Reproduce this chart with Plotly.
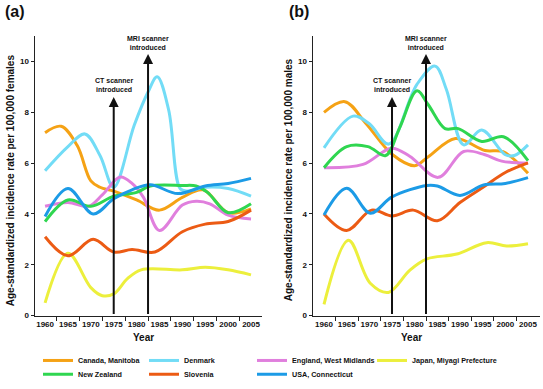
import plotly.graph_objects as go

# ---------------- data ----------------
series_names = ["Canada, Manitoba", "Denmark", "England, West Midlands",
                "Japan, Miyagi Prefecture", "New Zealand", "Slovenia", "USA, Connecticut"]
series_colors = ["#F5A215", "#72DCF6", "#E07FDD", "#ECEF3C", "#2FD650", "#EC5B14", "#1C9BE6"]

year_ticks = [1960, 1965, 1970, 1975, 1980, 1985, 1990, 1995, 2000, 2005]
y_ticks = [0, 2, 4, 6, 8, 10]
ct_year = 1975
mri_year = 1982.5

# Panel (a): females
a_canada_x = [1960, 1963.5, 1967, 1970, 1972, 1975, 1980, 1985, 1990, 1994.5, 2000, 2005]
a_canada_y = [7.2, 7.45, 6.7, 5.3, 5.05, 4.9, 4.55, 4.15, 4.65, 4.95, 4.05, 4.2]
a_denmark_x = [1960, 1965, 1968.7, 1972, 1975, 1979.5, 1982.5, 1984.5, 1987, 1989.5, 1991, 1995, 2000, 2005]
a_denmark_y = [5.7, 6.65, 7.15, 6.3, 5.05, 7.5, 8.8, 9.4, 8.1, 5.0, 4.9, 5.05, 5.0, 4.7]
a_england_x = [1960, 1965, 1969.5, 1972.5, 1976.4, 1979, 1981.5, 1985, 1990, 1993, 1996, 2000, 2005]
a_england_y = [4.3, 4.45, 4.3, 4.75, 5.45, 5.2, 4.65, 3.35, 4.35, 4.5, 4.4, 3.95, 3.8]
a_japan_x = [1960, 1965, 1970, 1972.5, 1975, 1978, 1981, 1990, 1995, 2000, 2005]
a_japan_y = [0.5, 2.45, 1.1, 0.78, 0.85, 1.45, 1.8, 1.8, 1.9, 1.8, 1.6]
a_nz_x = [1960, 1965, 1970, 1975, 1980, 1983, 1990, 1993, 1995.5, 2000, 2005]
a_nz_y = [3.7, 4.55, 4.3, 4.7, 4.85, 5.1, 5.12, 5.1, 4.85, 4.05, 4.4]
a_slovenia_x = [1960, 1965, 1970.5, 1975, 1979, 1984, 1990, 1995, 2000, 2005]
a_slovenia_y = [3.1, 2.35, 3.0, 2.5, 2.6, 2.5, 3.3, 3.6, 3.7, 4.15]
a_usa_x = [1960, 1965, 1970.5, 1975, 1979, 1983, 1989, 1995, 2000, 2005]
a_usa_y = [3.9, 5.0, 4.0, 4.6, 4.95, 5.15, 4.8, 5.1, 5.2, 5.4]

# Panel (b): males
b_canada_x = [1960, 1964.6, 1969.3, 1975, 1980, 1983, 1989, 1995.5, 1999.5, 2005]
b_canada_y = [8.0, 8.42, 7.55, 6.35, 5.9, 6.25, 6.97, 6.5, 6.45, 5.6]
b_denmark_x = [1960, 1966.4, 1970, 1974.3, 1980.5, 1984.5, 1987, 1990.8, 1994.8, 2000, 2002, 2005]
b_denmark_y = [6.6, 7.85, 7.55, 6.75, 9.1, 9.82, 8.9, 6.72, 7.3, 6.33, 6.3, 6.72]
b_england_x = [1960, 1968.6, 1974.9, 1978.9, 1985.2, 1990.8, 1995.5, 1999.2, 2005]
b_england_y = [5.82, 5.95, 6.59, 6.27, 5.44, 6.46, 6.33, 6.08, 6.0]
b_japan_x = [1960, 1965.4, 1970.2, 1974.2, 1978.9, 1982.7, 1989.3, 1995.9, 2000.3, 2005]
b_japan_y = [0.44, 2.96, 1.27, 0.91, 1.78, 2.23, 2.42, 2.87, 2.74, 2.83]
b_nz_x = [1960, 1965, 1969.7, 1973.6, 1976.7, 1980.5, 1983, 1986.7, 1989.6, 1994.8, 1999.6, 2005]
b_nz_y = [5.82, 6.65, 6.65, 6.3, 7.4, 8.85, 8.3, 7.36, 7.36, 6.85, 7.04, 6.1]
b_slovenia_x = [1960, 1965, 1970.5, 1975, 1979.7, 1985, 1990, 1995.5, 2000, 2005]
b_slovenia_y = [4.0, 3.35, 4.15, 3.92, 4.15, 3.73, 4.45, 5.1, 5.63, 6.01]
b_usa_x = [1960, 1965, 1970.2, 1975, 1982.7, 1985, 1990, 1995.2, 2000, 2005]
b_usa_y = [3.96, 5.01, 4.03, 4.67, 5.12, 5.1, 4.73, 5.14, 5.2, 5.43]

panel_a = [(a_canada_x, a_canada_y), (a_denmark_x, a_denmark_y), (a_england_x, a_england_y),
           (a_japan_x, a_japan_y), (a_nz_x, a_nz_y), (a_slovenia_x, a_slovenia_y), (a_usa_x, a_usa_y)]
panel_b = [(b_canada_x, b_canada_y), (b_denmark_x, b_denmark_y), (b_england_x, b_england_y),
           (b_japan_x, b_japan_y), (b_nz_x, b_nz_y), (b_slovenia_x, b_slovenia_y), (b_usa_x, b_usa_y)]

# ---------------- figure ----------------
W, H = 543, 389
FONT = "Liberation Sans, Arial, sans-serif"

def px(x):
    return x / W

def py(y):
    return 1 - y / H

# legend entry placement (pixel x of the label text, pixel y of the row)
legend_text_x = [79, 185, 293, 413, 79, 185, 293]
legend_row_y = [369, 369, 369, 369, 383, 383, 383]

fig = go.Figure()

for i, name in enumerate(series_names):
    legend_id = "legend" if i == 0 else "legend%d" % (i + 1)
    xs, ys = panel_a[i]
    fig.add_trace(go.Scatter(x=xs, y=ys, mode="lines", name=name,
                             line=dict(color=series_colors[i], width=3, shape="spline", smoothing=1.0),
                             xaxis="x", yaxis="y", legend=legend_id, showlegend=True,
                             legendgroup=name))
    xs, ys = panel_b[i]
    fig.add_trace(go.Scatter(x=xs, y=ys, mode="lines", name=name,
                             line=dict(color=series_colors[i], width=3, shape="spline", smoothing=1.0),
                             xaxis="x2", yaxis="y2", showlegend=False, legendgroup=name))

minor_vals = [y + 2.5 for y in year_ticks[:-1]]
ydom = [66 / H, 352 / H]

xcommon = dict(showgrid=False, zeroline=False, showline=True, linecolor="#222", linewidth=1.5,
               tickvals=year_ticks, ticktext=[str(t) for t in year_ticks], ticks="",
               tickfont=dict(family=FONT, size=8, color="#111", weight="bold"),
               minor=dict(tickvals=minor_vals, ticks="outside", ticklen=4, tickcolor="#222", tickwidth=1),
               fixedrange=True)
ycommon = dict(showgrid=False, zeroline=False, showline=True, linecolor="#222", linewidth=1.5,
               tickvals=y_ticks, ticks="outside", ticklen=3, tickcolor="#222",
               tickfont=dict(family=FONT, size=8, color="#111", weight="bold"),
               range=[0, 11], domain=ydom, fixedrange=True)

legend_layout = {}
for i in range(len(series_names)):
    key = "legend" if i == 0 else "legend%d" % (i + 1)
    legend_layout[key] = dict(orientation="h", x=px(legend_text_x[i] - 41), xanchor="left",
                              y=py(legend_row_y[i]), yanchor="middle", itemwidth=30,
                              font=dict(family=FONT, size=7.2, color="#111", weight="bold"),
                              bgcolor="rgba(0,0,0,0)")

fig.update_layout(
    width=W, height=H, autosize=False,
    margin=dict(l=0, r=0, t=0, b=0),
    paper_bgcolor="white", plot_bgcolor="white",
    xaxis=dict(domain=[35 / W, 262 / W], range=[1957.8, 2007.4], anchor="y", **xcommon),
    yaxis=dict(anchor="x", **ycommon),
    xaxis2=dict(domain=[313 / W, 540 / W], range=[1957.57, 2007.65], anchor="y2", **xcommon),
    yaxis2=dict(anchor="x2", **ycommon),
    showlegend=True,
    **legend_layout,
)

ann = []
for xr, yr in [("x", "y"), ("x2", "y2")]:
    for yr_val, tip in [(ct_year, 8.6), (mri_year, 10.3)]:
        ann.append(dict(x=yr_val, y=tip, ax=yr_val, ay=0, xref=xr, yref=yr, axref=xr, ayref=yr,
                        showarrow=True, arrowhead=2, arrowsize=1, arrowwidth=2,
                        arrowcolor="#111", text=""))
    ann.append(dict(x=ct_year, y=9.08, xref=xr, yref=yr, showarrow=False,
                    text="CT scanner<br>introduced",
                    font=dict(family=FONT, size=7, color="#111", weight="bold")))
    ann.append(dict(x=mri_year, y=10.73, xref=xr, yref=yr, showarrow=False,
                    text="MRI scanner<br>introduced",
                    font=dict(family=FONT, size=7, color="#111", weight="bold")))

ann.append(dict(x=px(3), y=py(11.5), xref="paper", yref="paper", xanchor="left", yanchor="middle",
                showarrow=False, text="(a)", font=dict(family=FONT, size=16, color="#111", weight="bold")))
ann.append(dict(x=px(287), y=py(11.5), xref="paper", yref="paper", xanchor="left", yanchor="middle",
                showarrow=False, text="(b)", font=dict(family=FONT, size=16, color="#111", weight="bold")))
ann.append(dict(x=px(10), y=py(184.5), xref="paper", yref="paper", xanchor="center", yanchor="middle",
                textangle=-90, showarrow=False,
                text="Age-standardized incidence rate per 100,000 females",
                font=dict(family=FONT, size=10, color="#111", weight="bold")))
ann.append(dict(x=px(288), y=py(184.5), xref="paper", yref="paper", xanchor="center", yanchor="middle",
                textangle=-90, showarrow=False,
                text="Age-standardized incidence rate per 100,000 males",
                font=dict(family=FONT, size=10, color="#111", weight="bold")))
ann.append(dict(x=px(143), y=py(345), xref="paper", yref="paper", xanchor="center", yanchor="middle",
                showarrow=False, text="Year", font=dict(family=FONT, size=10, color="#111", weight="bold")))
ann.append(dict(x=px(411), y=py(345), xref="paper", yref="paper", xanchor="center", yanchor="middle",
                showarrow=False, text="Year", font=dict(family=FONT, size=10, color="#111", weight="bold")))

fig.update_layout(annotations=ann)

fig.write_html("out.html", include_plotlyjs=True, full_html=True,
               config={"displayModeBar": False, "staticPlot": True},
               post_script="document.body.style.margin='0';")
